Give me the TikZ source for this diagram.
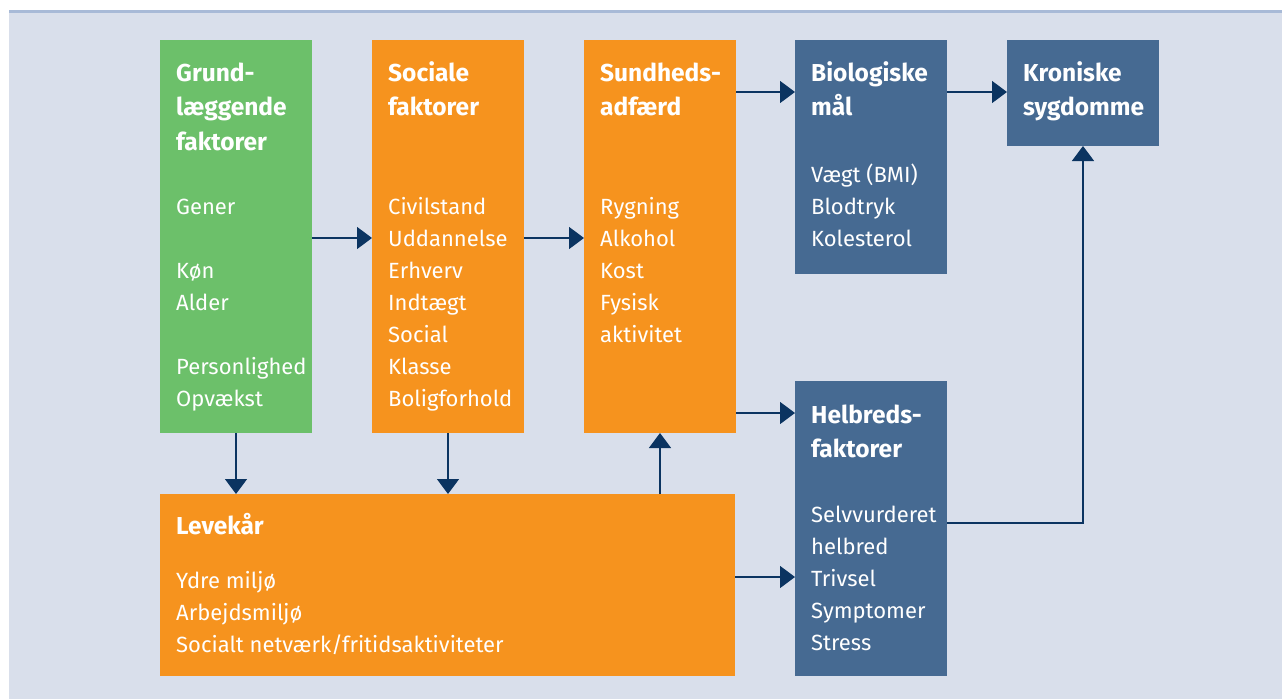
\documentclass[tikz,border=0pt]{standalone}
\usepackage{fontspec}
\setmainfont{Fira Sans}
\usetikzlibrary{arrows.meta}
\definecolor{bggray}{HTML}{D9DFEB}
\definecolor{topline}{HTML}{A8BAD7}
\definecolor{boxgreen}{HTML}{6CC06A}
\definecolor{boxorange}{HTML}{F6931E}
\definecolor{boxblue}{HTML}{466A92}
\definecolor{arrcol}{HTML}{0B3461}
\tikzset{
  box/.style={draw=none, inner sep=0pt, outer sep=0pt, anchor=north west},
  ttl/.style={anchor=north west, inner sep=0pt, align=left, text=white, font=\fontsize{24.5}{34.5}\selectfont\bfseries},
  bdy/.style={anchor=north west, inner sep=0pt, align=left, text=white, font=\fontsize{22}{32}\selectfont},
  arr/.style={draw=arrcol, line width=1.4pt, -{Triangle[width=22pt,length=15pt]}},
  lnk/.style={draw=arrcol, line width=1.4pt}
}
\begin{document}
\begin{tikzpicture}[x=1pt,y=-1pt]
\useasboundingbox (0,0) rectangle (1282,699);
\fill[white] (0,0) rectangle (1282,699);
\fill[bggray] (9,12) rectangle (1282,699);
\fill[topline] (9,10) rectangle (1282,12.5);
% boxes
\node[box, fill=boxgreen, minimum width=152pt, minimum height=393pt] (grund) at (160,40) {};
\node[box, fill=boxorange, minimum width=152pt, minimum height=393pt] (soc) at (372,40) {};
\node[box, fill=boxorange, minimum width=152pt, minimum height=393pt] (sund) at (584,40) {};
\node[box, fill=boxblue, minimum width=152pt, minimum height=234pt] (bio) at (795,40) {};
\node[box, fill=boxblue, minimum width=152pt, minimum height=106pt] (kron) at (1007,40) {};
\node[box, fill=boxblue, minimum width=152pt, minimum height=295pt] (helb) at (795,381) {};
\node[box, fill=boxorange, minimum width=575pt, minimum height=182pt] (lev) at (160,494) {};
% titles
\node[ttl] (tgrund) at (176,57) {\strut Grund-\\læggende\\faktorer};
\node[ttl] (tsoc) at (388,57) {\strut Sociale\\faktorer};
\node[ttl] (tsund) at (600,57) {\strut Sundheds-\\adfærd};
\node[ttl] (tbio) at (811,57) {\strut Biologiske\\mål};
\node[ttl] (tkron) at (1023,57) {\strut Kroniske\\sygdomme};
\node[ttl] (thelb) at (811,399) {\strut Helbreds-\\faktorer};
\node[ttl] (tlev) at (176,510) {\strut Levekår};
% bodies
\node[bdy] (bgrund) at (176,191.6) {\strut Gener\\ \\Køn\\Alder\\ \\Personlighed\\Opvækst};
\node[bdy] (bsoc) at (388,191.6) {\strut Civilstand\\Uddannelse\\Erhverv\\Indtægt\\Social\\Klasse\\Boligforhold};
\node[bdy] (bsund) at (600,191.6) {\strut Rygning\\Alkohol\\Kost\\Fysisk\\aktivitet};
\node[bdy] (bbio) at (811,159.6) {\strut Vægt (BMI)\\Blodtryk\\Kolesterol};
\node[bdy] (bhelb) at (811,499.6) {\strut Selvvurderet\\helbred\\Trivsel\\Symptomer\\Stress};
\node[bdy] (blev) at (176,565.6) {\strut Ydre miljø\\Arbejdsmiljø\\Socialt netværk/fritidsaktiviteter};
% connectors
\draw[arr] (grund.east |- 0,238) -- (soc.west |- 0,238);
\draw[arr] (soc.east |- 0,238) -- (sund.west |- 0,238);
\draw[arr] (sund.east |- 0,92) -- (bio.west |- 0,92);
\draw[arr] (bio.east |- 0,92) -- (kron.west |- 0,92);
\draw[arr] (sund.east |- 0,413) -- (helb.west |- 0,413);
\draw[arr] (lev.east |- 0,577) -- (helb.west |- 0,577);
\draw[arr] (grund.south) -- (grund.south |- lev.north);
\draw[arr] (soc.south) -- (soc.south |- lev.north);
\draw[arr] (sund.south |- lev.north) -- (sund.south);
\draw[arr] (helb.east |- 0,523) -| (kron.south);
\end{tikzpicture}
\end{document}
